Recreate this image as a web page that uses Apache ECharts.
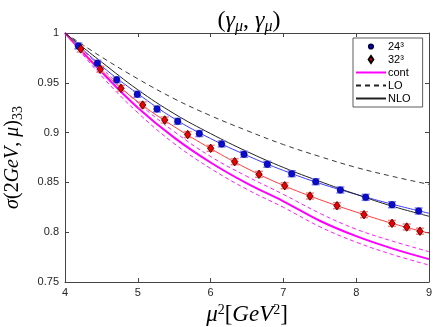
<!DOCTYPE html>
<html>
<head>
<meta charset="utf-8">
<script src="https://cdn.jsdelivr.net/npm/echarts@6/dist/echarts.min.js"></script>
<style>
  html, body { margin: 0; padding: 0; background: #fff; }
  #chart { width: 436px; height: 327px; }
</style>
</head>
<body>
<div id="chart"></div>
<script>
// curve sample points (mu^2)
var xs = [4, 4.5, 5, 5.5, 6, 6.5, 7, 7.5, 8, 8.5, 9];
var loVals = [1, 0.976, 0.954, 0.934, 0.917, 0.902, 0.888, 0.876, 0.865, 0.856, 0.848];
var nloVals = [1, 0.971, 0.943, 0.919, 0.899, 0.881, 0.865, 0.851, 0.838, 0.826, 0.816];
var contVals = [1, 0.961, 0.925, 0.895, 0.870, 0.849, 0.831, 0.8115, 0.796, 0.7835, 0.773];
var contHi = [1, 0.965, 0.930, 0.901, 0.876, 0.856, 0.838, 0.819, 0.803, 0.791, 0.7805];
var contLo = [1, 0.957, 0.920, 0.889, 0.864, 0.843, 0.825, 0.8055, 0.790, 0.7775, 0.767];
var fit24 = [1, 0.967, 0.939, 0.914, 0.894, 0.877, 0.862, 0.849, 0.838, 0.828, 0.819];
var fit32 = [1, 0.9625, 0.931, 0.906, 0.884, 0.864, 0.847, 0.8327, 0.8202, 0.8087, 0.799];

// lattice points
var x24 = [4.183, 4.444, 4.710, 4.993, 5.264, 5.548, 5.845, 6.152, 6.459, 6.779, 7.114, 7.444, 7.782, 8.130, 8.492, 8.858];
var y24 = [0.987, 0.9696, 0.953, 0.9385, 0.9237, 0.9113, 0.899, 0.8886, 0.8782, 0.8682, 0.8587, 0.8507, 0.8424, 0.835, 0.8276, 0.8213];
var err24 = [0.003, 0.003, 0.003, 0.003, 0.003, 0.003, 0.003, 0.003, 0.003, 0.003, 0.003, 0.003, 0.003, 0.003, 0.003, 0.003];
var x32 = [4.216, 4.485, 4.769, 5.067, 5.370, 5.685, 6.001, 6.331, 6.665, 7.018, 7.365, 7.736, 8.107, 8.492, 8.694, 8.876];
var y32 = [0.984, 0.9636, 0.9445, 0.9277, 0.9127, 0.898, 0.8842, 0.8708, 0.8581, 0.8467, 0.8363, 0.8266, 0.8176, 0.8089, 0.8052, 0.801];
var err32 = [0.003, 0.003, 0.003, 0.003, 0.003, 0.003, 0.003, 0.003, 0.003, 0.003, 0.003, 0.003, 0.003, 0.003, 0.003, 0.003];

function pairs(xv, yv) {
  return xv.map(function (x, i) { return [x, yv[i]]; });
}

function errSeries(name, xv, yv, ev, capColor, barColor) {
  return {
    name: name,
    type: 'custom',
    z: 4,
    renderItem: function (params, api) {
      var x = api.value(0), y = api.value(1), e = api.value(2);
      var top = api.coord([x, y + e]);
      var bot = api.coord([x, y - e]);
      var hw = 4;
      return {
        type: 'group',
        children: [
          { type: 'line', shape: { x1: top[0], y1: top[1], x2: bot[0], y2: bot[1] },
            style: { stroke: barColor, lineWidth: 1 } },
          { type: 'line', shape: { x1: top[0] - hw, y1: top[1], x2: top[0] + hw, y2: top[1] },
            style: { stroke: capColor, lineWidth: 1.5 } },
          { type: 'line', shape: { x1: bot[0] - hw, y1: bot[1], x2: bot[0] + hw, y2: bot[1] },
            style: { stroke: capColor, lineWidth: 1.5 } }
        ]
      };
    },
    encode: { x: 0, y: 1 },
    data: xv.map(function (x, i) { return [x, yv[i], ev[i]]; })
  };
}

function curve(name, yv, color, width, dash, z) {
  return {
    name: name,
    type: 'line',
    data: pairs(xs, yv),
    smooth: 0.4,
    symbol: 'none',
    z: z || 2,
    lineStyle: { color: color, width: width, type: dash || 'solid' },
    itemStyle: { color: color }
  };
}

var mathFont = 'Liberation Serif';
var tickFont = 'Liberation Sans';
var frameColor = '#444';
var noMark = { color: 'rgba(0,0,0,0)', borderWidth: 0 };
// marks centred in a 30x9 box, so the legend keeps them small
var diamondIcon = 'path://M0,0M30,9M15,0L18,4.5L15,9L12,4.5Z';
var dotIcon = 'path://M0,0M30,9M15,1.8A2.7,2.7,0,1,1,14.99,1.8Z';

var chart = echarts.init(document.getElementById('chart'));
var option = {
  animation: false,
  backgroundColor: '#fff',
  title: {
    text: '{n|(}{i|γ}{s|μ}{n|, }{i|γ}{s|μ}{n|)}',
    left: 244,
    textAlign: 'center',
    top: 2,
    textStyle: {
      fontWeight: 'normal',
      rich: {
        n: { fontFamily: mathFont, fontWeight: 'normal', fontSize: 24, color: '#000', lineHeight: 28 },
        i: { fontFamily: mathFont, fontWeight: 'normal', fontStyle: 'italic', fontSize: 24, color: '#000', lineHeight: 28 },
        s: { fontFamily: mathFont, fontWeight: 'normal', fontStyle: 'italic', fontSize: 16, color: '#000', verticalAlign: 'bottom', lineHeight: 28 }
      }
    }
  },
  grid: { left: 65, right: 7, top: 33, bottom: 45, containLabel: false, outerBoundsMode: 'none' },
  legend: {
    data: [
      { name: '24³', icon: dotIcon },
      { name: '32³', icon: diamondIcon },
      { name: 'cont', itemStyle: noMark },
      { name: 'LO', itemStyle: noMark },
      { name: 'NLO', itemStyle: noMark }
    ],
    orient: 'vertical',
    left: 353,
    top: 38,
    itemWidth: 30,
    itemHeight: 7,
    itemGap: 2,
    padding: [3, 12, 3, 2],
    backgroundColor: '#fff',
    borderColor: '#333',
    borderWidth: 0.8,
    borderRadius: 0,
    textStyle: { fontFamily: tickFont, fontSize: 11, color: '#000', padding: [0, 0, 0, -3] }
  },
  xAxis: [{
    type: 'value',
    min: 4,
    max: 9,
    interval: 1,
    name: '{i|μ}{s|2}{n|[}{i|GeV}{s|2}{n|]}',
    nameLocation: 'middle',
    nameGap: 19,
    nameTextStyle: {
      rich: {
        n: { fontFamily: mathFont, fontSize: 23, color: '#000', lineHeight: 24 },
        i: { fontFamily: mathFont, fontStyle: 'italic', fontSize: 23, color: '#000', lineHeight: 24 },
        s: { fontFamily: mathFont, fontSize: 14, color: '#000', verticalAlign: 'top', lineHeight: 24 }
      }
    },
    axisLine: { onZero: false, lineStyle: { color: frameColor, width: 1 } },
    axisTick: { inside: true, length: 4, lineStyle: { color: frameColor } },
    axisLabel: { margin: 5, fontFamily: tickFont, fontSize: 11, color: '#262626' },
    splitLine: { show: false }
  }, {
    type: 'value',
    position: 'top',
    min: 4,
    max: 9,
    interval: 1,
    axisLine: { onZero: false, lineStyle: { color: frameColor, width: 1 } },
    axisTick: { inside: true, length: 4, lineStyle: { color: frameColor } },
    axisLabel: { show: false },
    splitLine: { show: false }
  }],
  yAxis: [{
    type: 'value',
    min: 0.75,
    max: 1,
    interval: 0.05,
    name: '{i|σ}{n|(2}{i|GeV}{n|, }{i|μ}{n|)}{s|33}',
    nameLocation: 'middle',
    nameGap: 40,
    nameRotate: 90,
    nameTextStyle: {
      rich: {
        n: { fontFamily: mathFont, fontSize: 20, color: '#000', lineHeight: 24 },
        i: { fontFamily: mathFont, fontStyle: 'italic', fontSize: 20, color: '#000', lineHeight: 24 },
        s: { fontFamily: mathFont, fontSize: 14, color: '#000', verticalAlign: 'bottom', lineHeight: 24 }
      }
    },
    axisLine: { onZero: false, lineStyle: { color: frameColor, width: 1 } },
    axisTick: { inside: true, length: 4, lineStyle: { color: frameColor } },
    axisLabel: { margin: 6, fontFamily: tickFont, fontSize: 11, color: '#262626' },
    splitLine: { show: false }
  }, {
    type: 'value',
    position: 'right',
    min: 0.75,
    max: 1,
    interval: 0.05,
    axisLine: { onZero: false, lineStyle: { color: frameColor, width: 1 } },
    axisTick: { inside: true, length: 4, lineStyle: { color: frameColor } },
    axisLabel: { show: false },
    splitLine: { show: false }
  }],
  series: [
    curve('LO', loVals, '#222', 0.9, [5, 4]),
    curve('cont+', contHi, '#ff00ff', 0.9, [4, 3]),
    curve('cont-', contLo, '#ff00ff', 0.9, [4, 3]),
    curve('cont', contVals, '#ff00ff', 2),
    curve('fit24', fit24, '#3a3aff', 1),
    curve('fit32', fit32, '#ff3a3a', 1),
    curve('NLO', nloVals, '#222', 1, 'solid', 3),
    errSeries('err24', x24, y24, err24, '#7d7dff', '#000080'),
    errSeries('err32', x32, y32, err32, '#ff8080', '#800000'),
    {
      name: '24³',
      type: 'scatter',
      z: 5,
      symbol: 'circle',
      symbolSize: 6.5,
      itemStyle: { color: '#0a0ad0', borderColor: '#000050', borderWidth: 0.5, opacity: 1 },
      data: pairs(x24, y24)
    },
    {
      name: '32³',
      type: 'scatter',
      z: 5,
      symbol: 'diamond',
      symbolSize: [6.5, 8.5],
      itemStyle: { color: '#ee0000', borderColor: '#000', borderWidth: 0.7, opacity: 1 },
      data: pairs(x32, y32)
    }
  ]
};
chart.setOption(option);
</script>
</body>
</html>
